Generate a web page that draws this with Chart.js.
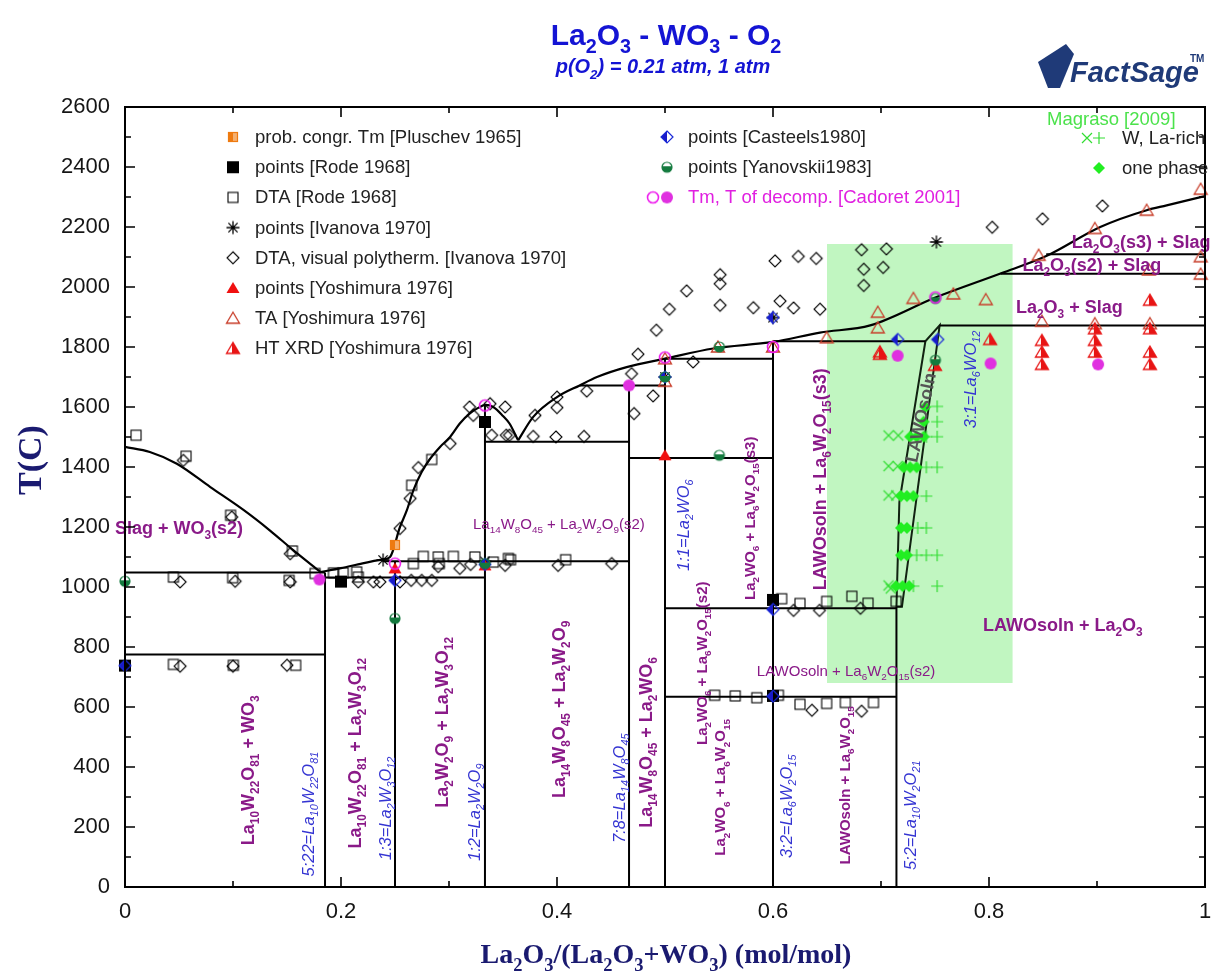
<!DOCTYPE html>
<html><head><meta charset="utf-8">
<script src="https://cdn.jsdelivr.net/npm/chart.js@4.4.1/dist/chart.umd.min.js"></script>
<style>html,body{margin:0;padding:0;background:#fff;}#wrap{width:1212px;height:975px;position:relative;}canvas{display:block;}</style>
</head><body><div id="wrap"><canvas id="c" width="1212" height="975"></canvas></div>
<script>
// ================= DATA =================
const xTickValues = [0, 0.2, 0.4, 0.6, 0.8, 1];
const yTickValues = [0,200,400,600,800,1000,1200,1400,1600,1800,2000,2200,2400,2600];

// phase boundaries: liquidus curves (x = La2O3/(La2O3+WO3), T in C)
const liquidusLeft = [[0,1467],[0.023,1450],[0.048,1411],[0.079,1333],[0.11,1256],[0.134,1189],[0.156,1122],[0.181,1050]];
const liquidusMid = [[0.181,1050],[0.2,1063],[0.22,1079],[0.239,1092],[0.2454,1100],[0.2546,1200],[0.261,1256],[0.267,1322],[0.2747,1383],[0.282,1425],[0.2917,1467],[0.301,1500],[0.31,1545],[0.319,1578],[0.327,1597],[0.334,1607],[0.341,1600],[0.35,1570],[0.356,1545],[0.364,1489]];
const liquidusRight = [[0.364,1489],[0.378,1567],[0.4,1633],[0.421,1672],[0.437,1700],[0.4645,1733],[0.5,1761],[0.5447,1795],[0.6,1817],[0.6435,1848],[0.69,1872],[0.7504,1965],[0.8107,2045],[0.853,2103],[0.903,2200],[0.946,2256],[0.9645,2272],[1.0,2303]];
// isotherms [x1, x2, T]
const isotherms = [[0,0.1852,1048],[0,0.1852,775],[0.1852,0.3333,1032],[0.239,0.4667,1086],[0.3333,0.4667,1484],[0.421,0.5,1672],[0.4667,0.6,1430],[0.5,0.6,1761],[0.5,0.7143,929],[0.5,0.7143,634],[0.6,0.7411,1819],[0.7543,1,1872],[0.8107,1,2044],[0.853,1,2109]];
// compound lines [x, Ttop]
const compoundLines = [[0.1852,1048],[0.25,1086],[0.3333,1607],[0.4667,1672],[0.5,1761],[0.6,1817],[0.7143,934]];
// LAWO solid solution field
const lawoField = [[0.7143,934],[0.717,1283],[0.7411,1819],[0.7543,1872],[0.7194,934],[0.7143,934]];
// Magraso [2009] study window
const greenBoxX = [0.65, 0.822];
const greenBoxT = [680, 2143];

// experimental points
const pluschev = [[0.25,1140]];
const rodePoints = [[0,738],[0.2,1018],[0.3333,1550],[0.6,957],[0.6,637]];
const rodeDTA = [[0.0102,1506],[0.0565,1436],[0.0978,1239],[0.155,1120],[0.0448,1033],[0.0997,1031],[0.152,1022],[0.176,1045],[0.193,1047],[0.202,1047],[0.2145,1050],[0.216,1033],[0.2654,1339],[0.284,1425],[0.2762,1102],[0.29,1100],[0.304,1102],[0.324,1100],[0.355,1095],[0.267,1078],[0.291,1078],[0.341,1083],[0.357,1091],[0.408,1091],[0.0448,742],[0.1003,739],[0.158,739],[0.608,961],[0.625,945],[0.6497,952],[0.673,969],[0.688,946],[0.714,952],[0.546,639],[0.565,637],[0.585,631],[0.605,639],[0.625,609],[0.6497,612],[0.667,615],[0.693,615]];
const ivanovaPoints = [[0.7513,2150],[0.239,1090],[0.3333,1085],[0.6,1898],[0.5,1700]];
const ivanovaDTA = [[0.054,1422],[0.051,1017],[0.102,1019],[0.153,1017],[0.051,736],[0.1,736],[0.15,739],[0.153,1111],[0.0988,1233],[0.216,1017],[0.23,1017],[0.236,1017],[0.2546,1017],[0.265,1022],[0.2747,1022],[0.284,1022],[0.2546,1195],[0.264,1295],[0.2716,1398],[0.301,1478],[0.319,1600],[0.3225,1572],[0.338,1611],[0.352,1600],[0.3395,1506],[0.353,1506],[0.29,1068],[0.31,1062],[0.32,1075],[0.352,1072],[0.356,1506],[0.378,1502],[0.399,1500],[0.425,1502],[0.3796,1572],[0.4,1633],[0.4,1598],[0.4275,1653],[0.469,1711],[0.4713,1578],[0.489,1637],[0.475,1776],[0.492,1856],[0.504,1926],[0.52,1987],[0.551,2041],[0.551,2011],[0.551,1939],[0.526,1750],[0.5818,1931],[0.6019,2087],[0.6234,2102],[0.64,2095],[0.6065,1953],[0.619,1930],[0.6435,1926],[0.401,1072],[0.4506,1078],[0.619,922],[0.643,922],[0.636,589],[0.682,2124],[0.705,2127],[0.684,2059],[0.702,2065],[0.684,2005],[0.803,2199],[0.8495,2227],[0.905,2270],[0.681,929],[0.682,586]];
const yoshimuraPoints = [[0.5,1439],[0.25,1062],[0.3333,1072]];
const yoshimuraTA = [[0.6497,1831],[0.697,1916],[0.697,1864],[0.73,1962],[0.767,1977],[0.797,1958],[0.846,2106],[0.898,2195],[0.946,2256],[0.996,2326],[0.996,2101],[0.996,2043],[0.948,2057],[0.849,1886],[0.898,1878],[0.949,1878],[0.549,1800],[0.5,1686],[0.5,1761],[0.6,1800]];
const yoshimuraHTXRD = [[0.849,1822],[0.849,1783],[0.849,1742],[0.898,1861],[0.898,1822],[0.898,1783],[0.949,1956],[0.949,1861],[0.949,1783],[0.949,1742],[0.699,1784],[0.699,1776],[0.75,1739],[0.801,1825]];
const casteelsPoints = [[0,738],[0.25,1022],[0.5,1700],[0.6,1898],[0.7154,1825],[0.7525,1825],[0.6,636],[0.6,925],[0.3333,1075]];
const yanovskiiPoints = [[0,1019],[0.25,895],[0.5503,1439],[0.3333,1078],[0.5503,1800],[0.7504,1962],[0.7504,1756],[0.5,1700]];
const cadoretTm = [[0.25,1078],[0.3333,1605],[0.5,1765],[0.6,1800],[0.7504,1965]];
const cadoretDecomp = [[0.18,1025],[0.4667,1672],[0.7154,1771],[0.8015,1745],[0.901,1742]];
const magrasoWrich = [[0.707,1505],[0.716,1505],[0.707,1403],[0.7155,1403],[0.707,1305],[0.714,1305],[0.707,1005],[0.709,995]];
const magrasoLarich = [[0.752,1602],[0.752,1551],[0.742,1501],[0.752,1501],[0.742,1399],[0.752,1399],[0.742,1303],[0.734,1197],[0.742,1197],[0.733,1106],[0.742,1106],[0.752,1106],[0.73,1003],[0.752,1003]];
const magrasoOnePhase = [[0.741,1600],[0.7395,1551],[0.727,1501],[0.733,1501],[0.7395,1501],[0.721,1399],[0.727,1399],[0.733,1399],[0.7185,1303],[0.724,1303],[0.73,1303],[0.7185,1197],[0.724,1197],[0.7185,1106],[0.724,1106],[0.714,1003],[0.72,1003],[0.726,1003]];

// ================= STYLE / ANNOTATIONS =================
const FS = '"Liberation Sans", Arial, Helvetica, sans-serif';
const SERIF = '"Liberation Serif", "Times New Roman", serif';
const PURPLE = '#8a1a88', BLUE = '#3434d2', NAVY = '#1a1a70', TITLEBLUE = '#1414d4';

const ST = {
  phase: {size:18, weight:'bold', color:PURPLE},
  phaseS:{size:15, weight:'bold', color:PURPLE},
  phaseN:{size:15, weight:'normal', color:PURPLE},
  comp:  {size:16.5, style:'italic', color:BLUE},
  lawo:  {size:18, weight:'bold', color:'#555555'}
};
// [text, x, T, style, rotation, align]
const phaseLabels = [
  ['Slag + WO_{3}(s2)', -0.0093, 1199, 'phase', 0, 'left'],
  ['La_{14}W_{8}O_{45} + La_{2}W_{2}O_{9}(s2)', 0.3222, 1212, 'phaseN', 0, 'left'],
  ['La_{2}O_{3}(s3) + Slag', 0.8766, 2151, 'phase', 0, 'left'],
  ['La_{2}O_{3}(s2) + Slag', 0.831, 2073, 'phase', 0, 'left'],
  ['La_{2}O_{3} + Slag', 0.825, 1934, 'phase', 0, 'left'],
  ['LAWOsoln + La_{2}O_{3}', 0.7944, 873, 'phase', 0, 'left'],
  ['LAWOsoln + La_{6}W_{2}O_{15}(s2)', 0.585, 722, 'phaseN', 0, 'left'],
  ['La_{10}W_{22}O_{81} + WO_{3}', 0.1139, 389, 'phase', -90, 'center'],
  ['5:22=La_{10}W_{22}O_{81}', 0.1694, 243, 'comp', -90, 'center'],
  ['La_{10}W_{22}O_{81} + La_{2}W_{3}O_{12}', 0.213, 446, 'phase', -90, 'center'],
  ['1:3=La_{2}W_{3}O_{12}', 0.2407, 262, 'comp', -90, 'center'],
  ['La_{2}W_{2}O_{9} + La_{2}W_{3}O_{12}', 0.2935, 549, 'phase', -90, 'center'],
  ['1:2=La_{2}W_{2}O_{9}', 0.3231, 249, 'comp', -90, 'center'],
  ['La_{14}W_{8}O_{45} + La_{2}W_{2}O_{9}', 0.4019, 592, 'phase', -90, 'center'],
  ['7:8=La_{14}W_{8}O_{45}', 0.4574, 329, 'comp', -90, 'center'],
  ['La_{14}W_{8}O_{45} + La_{2}WO_{6}', 0.4824, 482, 'phase', -90, 'center'],
  ['1:1=La_{2}WO_{6}', 0.5167, 1206, 'comp', -90, 'center'],
  ['La_{2}WO_{6} + La_{6}W_{2}O_{15}(s3)', 0.5787, 1229, 'phaseS', -90, 'center'],
  ['La_{2}WO_{6} + La_{6}W_{2}O_{15}(s2)', 0.5343, 746, 'phaseS', -90, 'center'],
  ['La_{2}WO_{6} + La_{6}W_{2}O_{15}', 0.551, 332, 'phaseS', -90, 'center'],
  ['3:2=La_{6}W_{2}O_{15}', 0.612, 269, 'comp', -90, 'center'],
  ['LAWOsoln + La_{6}W_{2}O_{15}', 0.6667, 339, 'phaseS', -90, 'center'],
  ['5:2=La_{10}W_{2}O_{21}', 0.7269, 239, 'comp', -90, 'center'],
  ['LAWOsoln + La_{6}W_{2}O_{15}(s3)', 0.6435, 1359, 'phase', -90, 'center'],
  ['LAWOsoln', 0.7365, 1565, 'lawo', -78, 'center'],
  ['3:1=La_{6}WO_{12}', 0.7824, 1692, 'comp', -90, 'center']
];

// ================= MARKERS =================
function mkMarker(kind){
  const S = 18, c = S/2;
  const cv = document.createElement('canvas'); cv.width = S; cv.height = S;
  const g = cv.getContext('2d'); g.lineWidth = 1.2;
  const tri = () => { g.beginPath(); g.moveTo(c, c-6); g.lineTo(c+6.5, c+5); g.lineTo(c-6.5, c+5); g.closePath(); };
  const dia = (r) => { g.beginPath(); g.moveTo(c, c-r); g.lineTo(c+r, c); g.lineTo(c, c+r); g.lineTo(c-r, c); g.closePath(); };
  switch(kind){
    case 'pluschev':
      g.fillStyle = '#f5b070'; g.fillRect(c-4.5, c-4.5, 9, 9);
      g.fillStyle = '#ee7a10'; g.fillRect(c-4.5, c-4.5, 4.5, 9);
      g.strokeStyle = '#ee7a10'; g.strokeRect(c-4.5, c-4.5, 9, 9); break;
    case 'rodeP': g.fillStyle = '#000'; g.fillRect(c-6, c-6, 12, 12); break;
    case 'rodeDTA': g.strokeStyle = '#000'; g.lineWidth = 1.1; g.strokeRect(c-5, c-5, 10, 10); break;
    case 'ivaP':
      g.strokeStyle = '#000'; g.lineWidth = 1.3; g.beginPath();
      for (let k = 0; k < 4; k++){ const a = k*Math.PI/4; g.moveTo(c-6.5*Math.cos(a), c-6.5*Math.sin(a)); g.lineTo(c+6.5*Math.cos(a), c+6.5*Math.sin(a)); }
      g.stroke(); break;
    case 'ivaDTA': dia(6); g.strokeStyle = '#000'; g.lineWidth = 1.1; g.stroke(); break;
    case 'yoshP': tri(); g.fillStyle = '#f01010'; g.fill(); break;
    case 'yoshTA': tri(); g.strokeStyle = '#c83c28'; g.lineWidth = 1.3; g.stroke(); break;
    case 'yoshHT':
      tri(); g.save(); g.clip(); g.fillStyle = '#e81414'; g.fillRect(c-1, 0, S, S); g.restore();
      tri(); g.strokeStyle = '#e81414'; g.lineWidth = 1.3; g.stroke(); break;
    case 'cast':
      dia(6); g.save(); g.clip(); g.fillStyle = '#1a1ac8'; g.fillRect(0, 0, c, S); g.restore();
      dia(6); g.strokeStyle = '#1a2ad8'; g.stroke(); break;
    case 'yan':
      g.beginPath(); g.arc(c, c, 5, 0, Math.PI*2); g.save(); g.clip(); g.fillStyle = '#137a3e'; g.fillRect(0, c-1, S, S); g.restore();
      g.beginPath(); g.arc(c, c, 5, 0, Math.PI*2); g.strokeStyle = '#137a3e'; g.stroke(); break;
    case 'cadO': g.beginPath(); g.arc(c, c, 5.5, 0, Math.PI*2); g.strokeStyle = '#ee22ee'; g.lineWidth = 1.6; g.stroke(); break;
    case 'cadF': g.beginPath(); g.arc(c, c, 6, 0, Math.PI*2); g.fillStyle = '#e030e0'; g.fill(); break;
    case 'magX':
      g.strokeStyle = '#33dd33'; g.beginPath(); g.moveTo(c-5, c-5); g.lineTo(c+5, c+5); g.moveTo(c+5, c-5); g.lineTo(c-5, c+5); g.stroke(); break;
    case 'magP':
      g.strokeStyle = '#33dd33'; g.beginPath(); g.moveTo(c-6, c); g.lineTo(c+6, c); g.moveTo(c, c-6); g.lineTo(c, c+6); g.stroke(); break;
    case 'magD': dia(6); g.fillStyle = '#22ee22'; g.fill(); break;
  }
  return cv;
}
const M = {};
['pluschev','rodeP','rodeDTA','ivaP','ivaDTA','yoshP','yoshTA','yoshHT','cast','yan','cadO','cadF','magX','magP','magD'].forEach(k => M[k] = mkMarker(k));

// ================= HELPERS =================
const xy = a => a.map(p => ({x: p[0], y: p[1]}));
function segmentData(iso, comp){
  const out = [];
  iso.forEach(([x1, x2, t]) => { out.push({x:x1, y:t}, {x:x2, y:t}, {x:x2, y:null}); });
  comp.forEach(([x, t]) => { out.push({x:x, y:0}, {x:x, y:t}, {x:x, y:null}); });
  return out;
}
function richRuns(str){
  const runs = []; const re = /([_^])\{([^}]*)\}/g; let last = 0, m;
  while ((m = re.exec(str))){ if (m.index > last) runs.push({t: str.slice(last, m.index), k: 0}); runs.push({t: m[2], k: m[1] === '_' ? 1 : 2}); last = re.lastIndex; }
  if (last < str.length) runs.push({t: str.slice(last), k: 0});
  return runs;
}
function drawRich(ctx, str, x, y, o){
  const runs = richRuns(str);
  const fam = o.family || FS;
  const f = s => `${o.style || 'normal'} ${o.weight || 'normal'} ${s}px ${fam}`;
  const sub = o.size * 0.66;
  let w = 0;
  runs.forEach(r => { ctx.font = f(r.k ? sub : o.size); r.w = ctx.measureText(r.t).width; w += r.w; });
  ctx.save(); ctx.translate(x, y); if (o.rot) ctx.rotate(o.rot * Math.PI / 180);
  let cx = o.align === 'left' ? 0 : o.align === 'right' ? -w : -w / 2;
  ctx.fillStyle = o.color; ctx.textAlign = 'left'; ctx.textBaseline = 'alphabetic';
  const base = o.size * 0.35;
  runs.forEach(r => {
    ctx.font = f(r.k ? sub : o.size);
    const dy = r.k === 1 ? o.size * 0.28 : r.k === 2 ? -o.size * 0.42 : 0;
    ctx.fillText(r.t, cx, base + dy); cx += r.w;
  });
  ctx.restore();
}

// ================= DATASETS =================
const markerSets = [
  [cadoretDecomp,'cadF'],[cadoretTm,'cadO'],[yanovskiiPoints,'yan'],[casteelsPoints,'cast'],
  [magrasoOnePhase,'magD'],[magrasoWrich,'magX'],[magrasoLarich,'magP'],
  [yoshimuraPoints,'yoshP'],[yoshimuraHTXRD,'yoshHT'],[yoshimuraTA,'yoshTA'],
  [ivanovaPoints,'ivaP'],[rodePoints,'rodeP'],[pluschev,'pluschev'],[rodeDTA,'rodeDTA'],[ivanovaDTA,'ivaDTA']
];
const datasets = markerSets.map(([arr, k], i) => ({
  type: 'scatter', data: xy(arr), pointStyle: M[k], pointRadius: 6, pointHoverRadius: 6, clip: false, order: i
}));
const lineBase = {type: 'line', borderColor: '#000', pointRadius: 0, pointHoverRadius: 0, fill: false, order: 50};
datasets.push(Object.assign({}, lineBase, {data: xy(liquidusLeft), borderWidth: 2.2, cubicInterpolationMode: 'monotone'}));
datasets.push(Object.assign({}, lineBase, {data: xy(liquidusMid), borderWidth: 2.2, cubicInterpolationMode: 'monotone'}));
datasets.push(Object.assign({}, lineBase, {data: xy(liquidusRight), borderWidth: 2.2, cubicInterpolationMode: 'monotone'}));
datasets.push(Object.assign({}, lineBase, {data: segmentData(isotherms, compoundLines), borderWidth: 2, tension: 0, spanGaps: false}));
datasets.push(Object.assign({}, lineBase, {data: xy(lawoField), borderWidth: 2, borderColor: '#112211', tension: 0}));
datasets.push({type: 'line', data: [{x: greenBoxX[0], y: greenBoxT[1]}, {x: greenBoxX[1], y: greenBoxT[1]}],
  fill: {value: greenBoxT[0]}, backgroundColor: 'rgb(193,246,193)', borderWidth: 0, borderColor: 'rgba(0,0,0,0)',
  pointRadius: 0, pointHoverRadius: 0, order: 100});

// ================= PLUGIN =================
const deco = {
  id: 'deco',
  afterDatasetsDraw(chart){
    const {ctx, chartArea: a} = chart; const xs = chart.scales.x, ys = chart.scales.y;
    // labels
    phaseLabels.forEach(L => {
      const s = ST[L[3]];
      drawRich(ctx, L[0], xs.getPixelForValue(L[1]), ys.getPixelForValue(L[2]), Object.assign({}, s, {rot: L[4], align: L[5]}));
    });
    // frame and inward ticks
    ctx.save(); ctx.strokeStyle = '#000'; ctx.lineWidth = 2;
    ctx.strokeRect(a.left, a.top, a.right - a.left, a.bottom - a.top);
    ctx.lineWidth = 1.6; ctx.beginPath();
    for (let v = 0; v <= 10; v++){
      const px = xs.getPixelForValue(v / 10), len = v % 2 === 0 ? 10 : 6;
      ctx.moveTo(px, a.bottom); ctx.lineTo(px, a.bottom - len);
      ctx.moveTo(px, a.top); ctx.lineTo(px, a.top + len);
    }
    for (let v = 0; v <= 26; v++){
      const py = ys.getPixelForValue(v * 100), len = v % 2 === 0 ? 10 : 6;
      ctx.moveTo(a.left, py); ctx.lineTo(a.left + len, py);
      ctx.moveTo(a.right, py); ctx.lineTo(a.right - len, py);
    }
    ctx.stroke(); ctx.restore();
    // legend
    const col1 = [['pluschev','prob. congr. Tm [Pluschev 1965]'],['rodeP','points [Rode 1968]'],['rodeDTA','DTA [Rode 1968]'],['ivaP','points [Ivanova 1970]'],['ivaDTA','DTA, visual polytherm. [Ivanova 1970]'],['yoshP','points [Yoshimura 1976]'],['yoshTA','TA [Yoshimura 1976]'],['yoshHT','HT XRD [Yoshimura 1976]']];
    const col2 = [['cast','points [Casteels1980]','#222'],['yan','points [Yanovskii1983]','#222'],['cad','Tm, T of decomp. [Cadoret 2001]','#e020e0']];
    ctx.save(); ctx.textBaseline = 'middle'; ctx.textAlign = 'left'; ctx.font = `18.5px ${FS}`;
    const y0 = a.top + 30, dy = 30.2;
    col1.forEach(([k, t], i) => { const y = y0 + i * dy; ctx.drawImage(M[k], 233 - 9, y - 9); ctx.fillStyle = '#222'; ctx.fillText(t, 255, y + 1); });
    col2.forEach(([k, t, col], i) => {
      const y = y0 + i * dy;
      if (k === 'cad'){ ctx.drawImage(M.cadO, 653 - 9, y - 9); ctx.drawImage(M.cadF, 667 - 9, y - 9); }
      else ctx.drawImage(M[k], 667 - 9, y - 9);
      ctx.fillStyle = col; ctx.fillText(t, 688, y + 1);
    });
    ctx.fillStyle = '#4be24b'; ctx.fillText('Magraso [2009]', 1047, a.top + 13);
    ctx.drawImage(M.magX, 1087 - 9, a.top + 31 - 9); ctx.drawImage(M.magP, 1099 - 9, a.top + 31 - 9);
    ctx.fillStyle = '#222'; ctx.fillText('W, La-rich', 1122, a.top + 32);
    ctx.drawImage(M.magD, 1099 - 9, a.top + 61 - 9); ctx.fillText('one phase', 1122, a.top + 62);
    ctx.restore();
  },
  afterDraw(chart){
    const ctx = chart.ctx;
    drawRich(ctx, 'La_{2}O_{3} - WO_{3} - O_{2}', 666, 34, {size: 30, weight: 'bold', color: TITLEBLUE, align: 'center'});
    drawRich(ctx, 'p(O_{2}) = 0.21 atm, 1 atm', 663, 66, {size: 20, weight: 'bold', style: 'italic', color: TITLEBLUE, align: 'center'});
    drawRich(ctx, 'La_{2}O_{3}/(La_{2}O_{3}+WO_{3}) (mol/mol)', 666, 953, {size: 28, weight: 'bold', family: SERIF, color: NAVY, align: 'center'});
    drawRich(ctx, 'T(C)', 29, 460, {size: 34, weight: 'bold', family: SERIF, color: NAVY, align: 'center', rot: -90});
    // FactSage logo
    ctx.save();
    ctx.fillStyle = '#1f3a78';
    ctx.beginPath(); ctx.moveTo(1038, 62); ctx.lineTo(1066, 44); ctx.lineTo(1074, 54); ctx.lineTo(1060, 88); ctx.lineTo(1048, 88); ctx.closePath(); ctx.fill();
    ctx.font = `italic bold 29px ${FS}`; ctx.textBaseline = 'alphabetic';
    ctx.fillText('FactSage', 1070, 82);
    ctx.font = `bold 10px ${FS}`; ctx.fillText('TM', 1190, 62);
    ctx.restore();
  }
};

// ================= CHART =================
new Chart(document.getElementById('c'), {
  type: 'scatter',
  data: {datasets},
  options: {
    responsive: false, animation: false, devicePixelRatio: 1, events: [],
    layout: {padding: {left: 0, right: 7, top: 107, bottom: 0}},
    plugins: {legend: {display: false}, tooltip: {enabled: false}},
    scales: {
      x: {type: 'linear', min: 0, max: 1,
        afterBuildTicks: s => { s.ticks = xTickValues.map(v => ({value: v})); },
        ticks: {padding: 12, color: '#151515', font: {size: 22, family: FS}, maxRotation: 0, autoSkip: false,
          callback: v => (v === 0 ? '0' : v === 1 ? '1' : Number(v).toFixed(1))},
        grid: {display: false, drawTicks: false}, border: {display: false},
        afterFit: s => { s.height = 88; s.paddingLeft = 0; s.paddingRight = 0; }},
      y: {type: 'linear', min: 0, max: 2600,
        afterBuildTicks: s => { s.ticks = yTickValues.map(v => ({value: v})); },
        ticks: {padding: 15, color: '#151515', font: {size: 22, family: FS}, autoSkip: false,
          callback: v => String(Math.round(v))},
        grid: {display: false, drawTicks: false}, border: {display: false},
        afterFit: s => { s.width = 125; s.paddingTop = 0; s.paddingBottom = 0; }}
    }
  },
  plugins: [deco]
});
</script></body></html>
